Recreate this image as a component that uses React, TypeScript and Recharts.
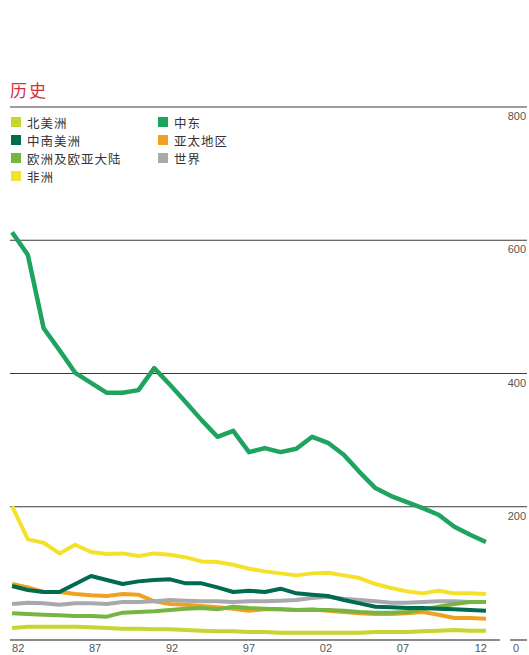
import { LineChart, Line, XAxis, YAxis, CartesianGrid } from "recharts";

const years = [
  1982, 1983, 1984, 1985, 1986, 1987, 1988, 1989, 1990, 1991, 1992, 1993, 1994, 1995, 1996, 1997,
  1998, 1999, 2000, 2001, 2002, 2003, 2004, 2005, 2006, 2007, 2008, 2009, 2010, 2011, 2012,
];

const northAmerica = [
  18, 20, 20, 20, 20, 19, 18, 17, 17, 16, 16, 15, 14, 13, 13, 12, 12, 11, 11, 11, 11, 11, 11, 12, 12,
  12, 13, 14, 15, 14, 14,
];
const southCentralAmerica = [
  81, 75, 72, 72, 84, 96, 90, 84, 88, 90, 91, 85, 85, 79, 72, 74, 72, 77, 70, 68, 66, 60, 55, 50, 49,
  48, 48, 47, 46, 45, 44,
];
const europeEurasia = [
  40, 39, 38, 37, 36, 36, 35, 41, 42, 43, 45, 47, 48, 46, 50, 48, 47, 46, 45, 45, 45, 44, 42, 41, 41,
  42, 46, 50, 54, 57, 57,
];
const africa = [
  201, 151, 146, 130, 143, 132, 129, 130, 126, 130, 128, 124, 118, 117, 113, 107, 103, 100, 97, 100,
  101, 97, 93, 84, 78, 73, 70, 74, 70, 70, 69,
];
const middleEast = [
  612, 578, 468, 435, 401, 386, 371, 371, 375, 408, 383, 357, 330, 305, 314, 282, 288, 282, 287, 305,
  296, 278, 252, 228, 216, 207, 198, 188, 170, 158, 147,
];
const asiaPacific = [
  84, 79, 72, 72, 69, 67, 66, 69, 68, 58, 54, 53, 51, 49, 47, 44, 46, 46, 45, 46, 44, 42, 40, 39, 39,
  40, 42, 38, 33, 33, 32,
];
const world = [
  54, 56, 55, 53, 55, 55, 54, 57, 57, 58, 60, 59, 58, 58, 57, 58, 58, 59, 60, 63, 65, 62, 60, 58, 56,
  56, 57, 58, 58, 57, 57,
];

const xTicks = [1982, 1987, 1992, 1997, 2002, 2007, 2012];
const yTicks = [0, 200, 400, 600, 800];

// legend order (two columns) and draw order are kept separately
const legendLeft = [
  { key: "na", name: "北美洲", color: "#c6d52f" },
  { key: "sca", name: "中南美洲", color: "#006b4f" },
  { key: "eu", name: "欧洲及欧亚大陆", color: "#77b543" },
  { key: "af", name: "非洲", color: "#f4e12b" },
];
const legendRight = [
  { key: "me", name: "中东", color: "#1fa45f" },
  { key: "ap", name: "亚太地区", color: "#f0a11f" },
  { key: "w", name: "世界", color: "#a8a9ac" },
];

const drawOrder = [
  { key: "na", color: "#c6d52f", width: 4 },
  { key: "ap", color: "#f0a11f", width: 4 },
  { key: "w", color: "#a8a9ac", width: 4 },
  { key: "eu", color: "#77b543", width: 4 },
  { key: "sca", color: "#006b4f", width: 4 },
  { key: "af", color: "#f4e12b", width: 4 },
  { key: "me", color: "#1fa45f", width: 4.5 },
];

const data = years.map((year, i) => ({
  year,
  na: northAmerica[i],
  sca: southCentralAmerica[i],
  eu: europeEurasia[i],
  af: africa[i],
  me: middleEast[i],
  ap: asiaPacific[i],
  w: world[i],
}));

const cjk = '"Noto Sans CJK SC", "Noto Sans", sans-serif';
const num = '"Liberation Sans", Arial, sans-serif';

const XTick = (props: any) => {
  const { x, y, payload, index } = props;
  const last = index === xTicks.length - 1;
  const first = index === 0;
  const anchor = first ? "start" : last ? "end" : "middle";
  const dx = first ? 0 : last ? 1 : 6 - 2 * index;
  return (
    <text x={x + dx} y={y + 4} textAnchor={anchor} fontSize={11} fill="#555" fontFamily={num}>
      {String(payload.value).slice(2)}
    </text>
  );
};

const YTick = (props: any) => {
  const { y, payload } = props;
  const x = payload.value === 0 ? 519 : 526;
  const dy = payload.value === 0 ? 12 : 13;
  return (
    <text x={x} y={y + dy} textAnchor="end" fontSize={11} fill="#555" fontFamily={num}>
      {payload.value}
    </text>
  );
};

function LegendColumn({ items, left }: { items: typeof legendLeft; left: number }) {
  return (
    <div style={{ position: "absolute", left, top: 113 }}>
      {items.map((it) => (
        <div key={it.key} style={{ display: "flex", alignItems: "center", height: 18 }}>
          <span style={{ width: 10, height: 10, background: it.color, marginRight: 6 }} />
          <span style={{ fontSize: 12.5, color: "#333", fontFamily: cjk, letterSpacing: 1 }}>
            {it.name}
          </span>
        </div>
      ))}
    </div>
  );
}

export default function App() {
  return (
    <div style={{ position: "absolute", left: 0, top: 0, width: 529, height: 655, background: "#fff" }}>
      <div
        style={{
          position: "absolute",
          left: 10,
          top: 77,
          fontSize: 17,
          color: "#d3303c",
          fontFamily: cjk,
          letterSpacing: 2,
        }}
      >
        历史
      </div>
      <LineChart width={529} height={655} data={data} margin={{ top: 107, right: 0, bottom: 0, left: 10 }}>
        <CartesianGrid vertical={false} stroke="#3a3a3a" strokeWidth={1.2} horizontalValues={[200, 400, 600, 800]} />
        <XAxis
          dataKey="year"
          type="number"
          domain={[1981.87, 2014.6]}
          allowDataOverflow
          ticks={xTicks}
          interval={0}
          height={15}
          tickLine={false}
          axisLine={{ stroke: "#8a8a8a", strokeWidth: 2, strokeDasharray: "490 10 20" }}
          tick={<XTick />}
        />
        <YAxis
          orientation="right"
          width={2}
          domain={[0, 800]}
          ticks={yTicks}
          interval={0}
          axisLine={false}
          tickLine={false}
          tick={<YTick />}
        />
        {drawOrder.map((s) => (
          <Line
            key={s.key}
            dataKey={s.key}
            stroke={s.color}
            strokeWidth={s.width}
            dot={false}
            type="linear"
            strokeLinejoin="round"
            isAnimationActive={false}
          />
        ))}
      </LineChart>
      <LegendColumn items={legendLeft} left={11} />
      <LegendColumn items={legendRight} left={158} />
    </div>
  );
}
